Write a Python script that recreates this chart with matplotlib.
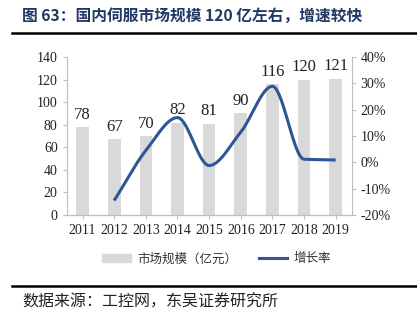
import numpy as np
import matplotlib
matplotlib.use("Agg")
import matplotlib.pyplot as plt
from matplotlib.lines import Line2D
from matplotlib.patches import Patch

plt.rcParams["font.family"] = ["Noto Sans CJK SC", "DejaVu Sans"]

years = ["2011", "2012", "2013", "2014", "2015", "2016", "2017", "2018", "2019"]
market_size = [78, 67, 70, 82, 81, 90, 116, 120, 121]
growth_years = [1, 2, 3, 4, 5, 6, 7, 8]  # index into years (2012..2019)
growth_pct = [-14.5, 4.5, 17.0, -1.2, 11.5, 28.9, 1.2, 0.9]

BAR = "#D9D9D9"; LINE = "#2E5597"; SPINE = "#BFBFBF"; NAVY = "#1F3864"
SERIF = "Liberation Serif"


def smooth(x, y, n=40):
    """Shape-preserving cubic (PCHIP-like) curve through the points."""
    x = np.asarray(x, float); y = np.asarray(y, float)
    h = np.diff(x); d = np.diff(y) / h
    m = np.zeros_like(y)
    for i in range(1, len(y) - 1):
        if d[i - 1] * d[i] > 0:
            m[i] = 2 / (1 / d[i - 1] + 1 / d[i])
    m[0] = d[0]; m[-1] = d[-1]
    xs, ys = [], []
    t = np.linspace(0, 1, n)
    for i in range(len(x) - 1):
        h00 = 2 * t**3 - 3 * t**2 + 1; h10 = t**3 - 2 * t**2 + t
        h01 = -2 * t**3 + 3 * t**2; h11 = t**3 - t**2
        xs.append(x[i] + t * h[i])
        ys.append(h00 * y[i] + h10 * h[i] * m[i] + h01 * y[i + 1] + h11 * h[i] * m[i + 1])
    return np.concatenate(xs), np.concatenate(ys)


fig = plt.figure(figsize=(4.17, 3.29), dpi=100)
ax = fig.add_axes([0.16, 0.3465, 0.683, 0.48])
ax2 = ax.twinx()

xpos = np.arange(len(years))
ax.bar(xpos, market_size, 0.4, color=BAR, zorder=1)
for xi, v in zip(xpos, market_size):
    ax.text(xi, v + 4, f"{v}", ha="center", va="bottom", fontsize=12, family=SERIF, color="#222222")
ax.set_xlim(-0.5, len(years) - 0.5)
ax.set_ylim(0, 140); ax.set_yticks(range(0, 141, 20))
ax.set_xticks(xpos); ax.set_xticklabels(years)

sx, sy = smooth(growth_years, growth_pct)
ax2.plot(sx, sy, color=LINE, lw=2.2, solid_capstyle="butt")
ax2.set_ylim(-20, 40); ax2.set_yticks(range(-20, 41, 10))
ax2.set_yticklabels([f"{v}%" for v in range(-20, 41, 10)])

for a in (ax, ax2):
    a.spines["top"].set_visible(False)
    for s in ("left", "right", "bottom"):
        a.spines[s].set_color(SPINE)
    a.tick_params(colors=SPINE, labelcolor="#222222", length=3, labelsize=10)
    for lab in a.get_xticklabels() + a.get_yticklabels():
        lab.set_family(SERIF)
ax.spines["right"].set_visible(False)
ax2.spines["left"].set_visible(False)

handles = [Patch(color=BAR), Line2D([], [], color=LINE, lw=2.2)]
fig.legend(handles, ["市场规模（亿元）", "增长率"], loc="center", bbox_to_anchor=(0.52, 0.213),
           ncol=2, frameon=False, fontsize=9, handlelength=2.3, handleheight=0.6,
           columnspacing=1.7, handletextpad=0.5, labelcolor="#333333")

fig.text(0.053, 0.952, "图 63：国内伺服市场规模 120 亿左右，增速较快", fontsize=11.3,
         fontweight="bold", color=NAVY, va="center")
fig.add_artist(Line2D([0.029, 1.0], [0.901, 0.901], color="black", lw=1.8))
fig.add_artist(Line2D([0.029, 1.0], [0.131, 0.131], color="black", lw=1.8))
fig.text(0.053, 0.083, "数据来源：工控网，东吴证券研究所", fontsize=11.5, color="#222222", va="center")

fig.savefig("out.png", dpi=100)
